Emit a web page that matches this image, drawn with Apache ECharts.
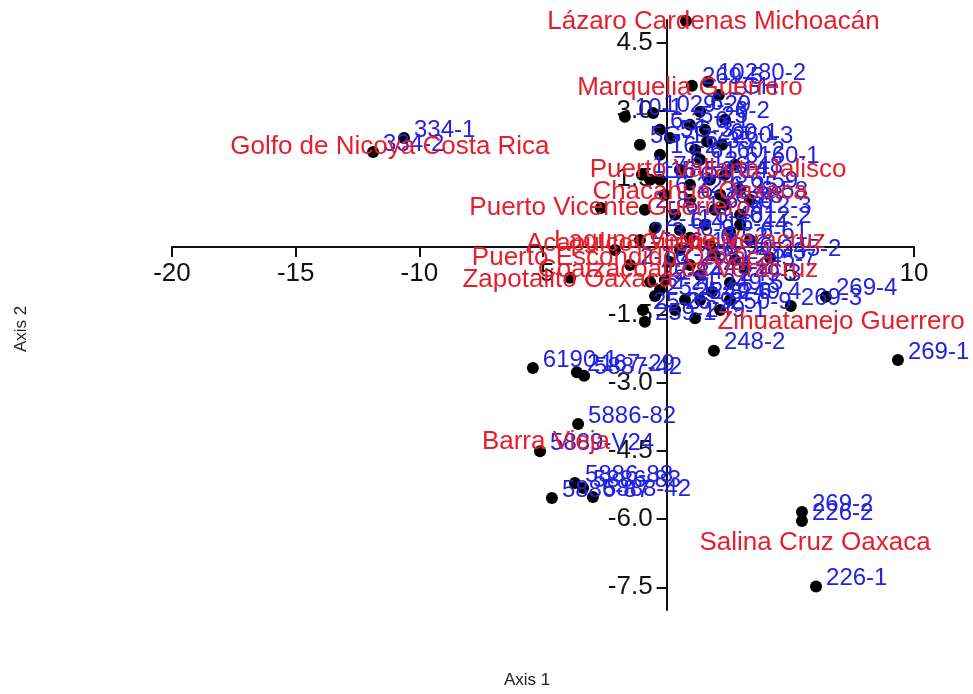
<!DOCTYPE html>
<html>
<head>
<meta charset="utf-8">
<script src="https://cdn.jsdelivr.net/npm/echarts@6/dist/echarts.min.js"></script>
<style>
html,body{margin:0;padding:0;background:#fff;}
#chart{width:973px;height:694px;}
</style>
</head>
<body>
<div id="chart"></div>
<script>
// Sample points (black dots, blue labels)
const sampleNames = ["", "10280-2", "269-5", "1GH", "10-1", "1029-29", "5-25", "5G-3", "5G-1", "260-1",
  "260-3", "16-2", "6160-2", "6160-1", "6-12", "1-5", "6-14", "6-59", "6-22", "6-31",
  "6-28", "2-8", "6-17", "612-3", "6-40", "2-11", "6-44", "6-9", "2-3", "245-2",
  "6-50", "2-19", "245-7", "249-2", "25-4", "249-3", "249-5", "25-1", "25-8", "259-1",
  "25-3", "249-1", "250-9", "", "", "", "1-7", "6190-1", "2167-29", "5887-42",
  "5886-82", "5889-V24", "5886-88", "5886-83", "5886-87", "5888-42", "334-1", "334-2", "269-3", "269-4",
  "269-1", "248-2", "269-2", "226-2", "226-1", "6-3", "6-7", "6-19", "6-25", "6-35",
  "2-21", "2-16", "6-61", "6-48", "6-1", "6-2", "6-33", "6-36", "6-58", "6-41",
  "6-52", "612-2", "2-24", "249-6", "249-4", "25-9", "16-5", "245-3", "2-30"];
const sampleX = [0.78, 1.67, 1.02, 2.11, -1.69, -0.55, 0.94, 0.13, -1.08, 1.63,
  2.24, -0.27, 1.35, 2.76, 0.54, -0.67, 1.75, 2.97, -0.07, 0.94,
  2.36, -0.88, 0.34, 2.97, 1.55, -0.47, 2.56, 0.94, -1.08, 4.18,
  1.95, 0.13, 3.17, 1.35, -0.67, 2.56, 1.83, -0.47, 0.74, -0.88,
  -0.96, 1.15, 2.16, -2.09, -3.91, -2.66, -1.0, -5.41, -3.63, -3.34,
  -3.58, -5.12, -3.71, -3.38, -4.64, -2.98, -10.62, -11.87, 5.02, 6.44,
  9.35, 1.91, 5.47, 5.47, 6.04, -0.27, 1.35, 0.54, 2.16, 1.15,
  -0.27, -1.48, 3.37, 2.36, 1.55, 2.36, 0.94, 1.95, 3.37, 0.54,
  1.75, 2.97, -0.07, 1.35, 2.56, 0.34, -0.27, 2.76, 0.94];
const sampleY = [4.98, 3.64, 3.55, 3.35, 2.87, 2.95, 2.69, 2.40, 2.25, 2.32,
  2.25, 2.03, 1.92, 1.81, 1.70, 1.48, 1.48, 1.26, 1.15, 1.04,
  0.93, 0.82, 0.71, 0.71, 0.49, 0.42, 0.33, 0.20, 0.15, -0.24,
  -0.18, -0.33, -0.46, -0.62, -0.77, -0.79, -0.99, -1.08, -1.17, -1.65,
  -1.39, -1.57, -1.39, -0.07, -0.68, 0.86, 1.59, -2.67, -2.76, -2.84,
  -3.90, -4.50, -5.20, -5.31, -5.53, -5.51, 2.40, 2.09, -1.30, -1.10,
  -2.49, -2.29, -5.84, -6.04, -7.48, 2.58, 2.98, -0.07, 1.15, 2.14,
  -0.95, -0.40, 0.15, 1.59, 2.58, 2.80, 1.37, 0.82, 1.04, 0.37,
  0.04, 0.49, -0.73, -1.17, -1.17, -1.39, 1.48, -0.29, -0.40];

// Locality labels (red)
const siteNames = ["Lázaro Cardenas Michoacán", "Marquelia Guerrero", "Golfo de Nicoya Costa Rica",
  "Puerto Vallarta Jalisco", "Chacahua Oaxaca", "Puerto Vicente Guerrero", "Acapulco Guerrero",
  "Laguna Verde Veracruz", "Puerto Escondido Oaxaca", "Coatzacoalcos Veracruz", "Zapotalito Oaxaca",
  "Zihuatanejo Guerrero", "Salina Cruz Oaxaca", "Barra Vieja"];
const siteX = [1.89, 0.94, -11.19, 2.08, 1.35, -2.29, -1.28, 0.94, -1.77, 0.46, -3.99, 7.05, 6.0, -4.88];
const siteY = [4.96, 3.51, 2.21, 1.70, 1.21, 0.86, 0.07, 0.13, -0.24, -0.51, -0.73, -1.65, -6.53, -4.30];

const xTicks = [-20, -15, -10, -5, 0, 5, 10];
const yTickLabels = [4.5, 3.0, 1.5, -1.5, -3.0, -4.5, -6.0, -7.5];

const sampleData = sampleNames.map((n, i) => ({name: n, value: [sampleX[i], sampleY[i]]}));
const siteData = siteNames.map((n, i) => ({name: n, value: [siteX[i], siteY[i]]}));

const X_MIN = -20, X_MAX = 10, Y_MIN = -8, Y_MAX = 5;
const G_LEFT = 172, G_RIGHT = 59, G_TOP = 20, G_BOTTOM = 84, W = 973, H = 694;
const gw = W - G_LEFT - G_RIGHT, gh = H - G_TOP - G_BOTTOM;
// move axes so they cross at the origin
const yAxisOffset = -(0 - X_MIN) / (X_MAX - X_MIN) * gw;
const xAxisOffset = -(0 - Y_MIN) / (Y_MAX - Y_MIN) * gh;

const chart = echarts.init(document.getElementById('chart'), null, {renderer: 'canvas'});
const fontFam = '"Liberation Sans", Arial, Helvetica, sans-serif';
chart.setOption({
  animation: false,
  backgroundColor: '#ffffff',
  grid: {left: G_LEFT, right: G_RIGHT, top: G_TOP, bottom: G_BOTTOM, containLabel: false},
  xAxis: {
    type: 'value', min: X_MIN, max: X_MAX, interval: 5, position: 'bottom', offset: xAxisOffset,
    splitLine: {show: false},
    axisLine: {onZero: false, lineStyle: {color: '#111', width: 2}},
    axisTick: {length: 10, lineStyle: {color: '#111', width: 2}, customValues: xTicks},
    axisLabel: {margin: 14, fontSize: 26, color: '#111', fontFamily: fontFam,
      customValues: xTicks.filter(v => v !== 0),
      formatter: v => (v === 0 ? '' : String(v))}
  },
  yAxis: {
    type: 'value', min: Y_MIN, max: Y_MAX, position: 'left', offset: yAxisOffset,
    splitLine: {show: false},
    axisLine: {onZero: false, lineStyle: {color: '#111', width: 2}},
    axisTick: {length: 10, lineStyle: {color: '#111', width: 2}, customValues: yTickLabels},
    axisLabel: {margin: 14, fontSize: 26, color: '#111', fontFamily: fontFam,
      customValues: yTickLabels,
      formatter: v => Number(v).toFixed(1)}
  },
  graphic: [
    {type: 'text', left: 504, top: 672, style: {text: 'Axis 1', fill: '#222', font: '17px ' + fontFam}},
    {type: 'text', x: 13, y: 352, rotation: Math.PI / 2, style: {text: 'Axis 2', fill: '#222', font: '17px ' + fontFam}}
  ],
  series: [
    {
      type: 'scatter', data: sampleData, symbolSize: 12, z: 2,
      itemStyle: {color: '#000', opacity: 1},
      label: {show: true, position: 'right', distance: 4, offset: [0, -8],
        formatter: '{b}', color: '#2222e0', fontSize: 24, fontFamily: fontFam},
      emphasis: {disabled: true}
    },
    {
      type: 'scatter', data: siteData, symbolSize: 1, z: 3,
      itemStyle: {color: 'rgba(0,0,0,0)', opacity: 1},
      label: {show: true, position: 'inside',
        formatter: '{b}', color: '#e41e2a', fontSize: 26, fontFamily: fontFam},
      emphasis: {disabled: true}
    }
  ]
});
</script>
</body>
</html>
